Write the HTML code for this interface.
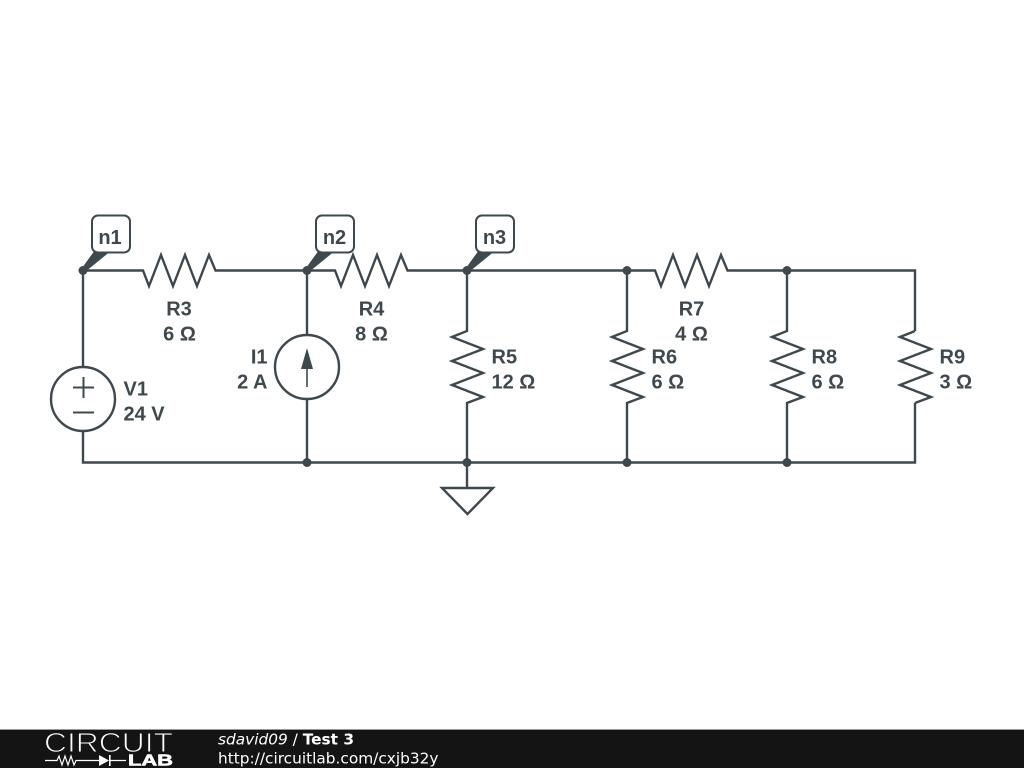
<!DOCTYPE html>
<html>
<head>
<meta charset="utf-8">
<style>
html,body{margin:0;padding:0;background:#fff;width:1024px;height:768px;overflow:hidden}
svg{display:block}
.w{fill:none;stroke:#3f484d;stroke-width:2.4;stroke-linejoin:miter}
.d{fill:#3f484d;stroke:none}
.t{font-family:"Liberation Sans",sans-serif;font-weight:bold;font-size:20px;fill:#3f484d}
.f{font-family:"DejaVu Sans",sans-serif;font-size:15.35px;fill:#fff}
</style>
</head>
<body>
<svg width="1024" height="768" viewBox="0 0 1024 768" xmlns="http://www.w3.org/2000/svg">
<rect width="1024" height="768" fill="#fff"/>
<!-- wires -->
<path class="w" d="M83 270.500H143L149 286L161 255L173 286L185 255L197 286L209 255L215.500 270.500H335L341 286L353 255L365 286L377 255L389 286L401 255L407.500 270.500H655L661 286L673 255L685 286L697 255L709 286L721 255L727.500 270.500H915V331"/>
<path class="w" d="M83 270.500V367M83 431V462.500H915V403"/>
<path class="w" d="M307 270.500V335M307 399V462.500"/>
<path class="w" d="M467 270.500V331L452 337L483 349L452 361L483 373L452 385L483 397L467 403V487"/>
<path class="w" d="M627 270.500V331L612 337L643 349L612 361L643 373L612 385L643 397L627 403V462.500"/>
<path class="w" d="M787 270.500V331L772 337L803 349L772 361L803 373L772 385L803 397L787 403V462.500"/>
<path class="w" d="M915 331L900 337L931 349L900 361L931 373L900 385L931 397L915 403"/>
<!-- ground -->
<path class="w" d="M442 488H493L467.500 514Z"/>
<!-- V1 -->
<circle class="w" cx="83" cy="399" r="32"/>
<path class="w" style="stroke-width:2" d="M73 387.500H94M83.500 377V398M73 412.500H94"/>
<!-- I1 -->
<circle class="w" cx="307" cy="367" r="32"/>
<path class="w" style="stroke-width:1.6" d="M307 366V387"/>
<path class="d" d="M307 348L313 369H301Z"/>
<!-- junction dots -->
<g class="d">
<circle cx="83" cy="270.500" r="4.500"/>
<circle cx="307" cy="270.500" r="4.500"/>
<circle cx="467" cy="270.500" r="4.500"/>
<circle cx="627" cy="270.500" r="4.500"/>
<circle cx="787" cy="270.500" r="4.500"/>
<circle cx="307" cy="462.500" r="4.500"/>
<circle cx="467" cy="462.500" r="4.500"/>
<circle cx="627" cy="462.500" r="4.500"/>
<circle cx="787" cy="462.500" r="4.500"/>
</g>
<!-- node tags -->
<g>
<path class="d" d="M82 268L95 250H112L85 272Z"/>
<path class="d" d="M306 268L319 250H336L309 272Z"/>
<path class="d" d="M466 268L479 250H496L469 272Z"/>
<rect x="92" y="215.500" width="38" height="37" rx="6" fill="#fff" stroke="#3f484d" stroke-width="2"/>
<rect x="316" y="215.500" width="38" height="37" rx="6" fill="#fff" stroke="#3f484d" stroke-width="2"/>
<rect x="476" y="215.500" width="38" height="37" rx="6" fill="#fff" stroke="#3f484d" stroke-width="2"/>
</g>
<g class="t">
<text x="110" y="244" text-anchor="middle">n1</text>
<text x="334.500" y="244" text-anchor="middle">n2</text>
<text x="494.500" y="244" text-anchor="middle">n3</text>
<text x="179" y="315.500" text-anchor="middle">R3</text>
<text x="179.500" y="340.500" text-anchor="middle">6 Ω</text>
<text x="371.500" y="315.500" text-anchor="middle">R4</text>
<text x="371.500" y="340.500" text-anchor="middle">8 Ω</text>
<text x="691.500" y="315.500" text-anchor="middle">R7</text>
<text x="691.500" y="340.500" text-anchor="middle">4 Ω</text>
<text x="123.500" y="395.500">V1</text>
<text x="123.500" y="420.500">24 V</text>
<text x="267.500" y="363.500" text-anchor="end">I1</text>
<text x="267.500" y="388.500" text-anchor="end">2 A</text>
<text x="491.500" y="363.500">R5</text>
<text x="491.500" y="388.500">12 Ω</text>
<text x="651.500" y="363.500">R6</text>
<text x="651.500" y="388.500">6 Ω</text>
<text x="811.500" y="363.500">R8</text>
<text x="811.500" y="388.500">6 Ω</text>
<text x="939.500" y="363.500">R9</text>
<text x="939.500" y="388.500">3 Ω</text>
</g>
<!-- footer -->
<rect x="0" y="729" width="1024" height="39" fill="#141414"/>
<rect x="0" y="729" width="1024" height="1" fill="#999"/>
<text x="44" y="752" font-family="'Liberation Sans',sans-serif" font-size="28" fill="#fff" stroke="#141414" stroke-width="1" textLength="129" lengthAdjust="spacingAndGlyphs">CIRCUIT</text>
<path fill="none" stroke="#fff" stroke-width="1.200" d="M45 760.500H57L59 756L62 765L65 756L68 765L71 756L74 765L76 760.500H99M110 760.500H126"/>
<path fill="#fff" d="M99 755L109 760.500L99 766Z"/>
<rect x="109" y="755" width="1.600" height="11" fill="#fff"/>
<text x="128" y="765.500" font-family="'Liberation Sans',sans-serif" font-size="15.500" font-weight="bold" fill="#fff" stroke="#fff" stroke-width="0.600" textLength="45" lengthAdjust="spacingAndGlyphs">LAB</text>
<text class="f" x="218" y="744.500"><tspan font-style="italic">sdavid09</tspan> / <tspan font-weight="bold">Test 3</tspan></text>
<text class="f" x="218" y="763.500">http://circuitlab.com/cxjb32y</text>
</svg>
</body>
</html>
